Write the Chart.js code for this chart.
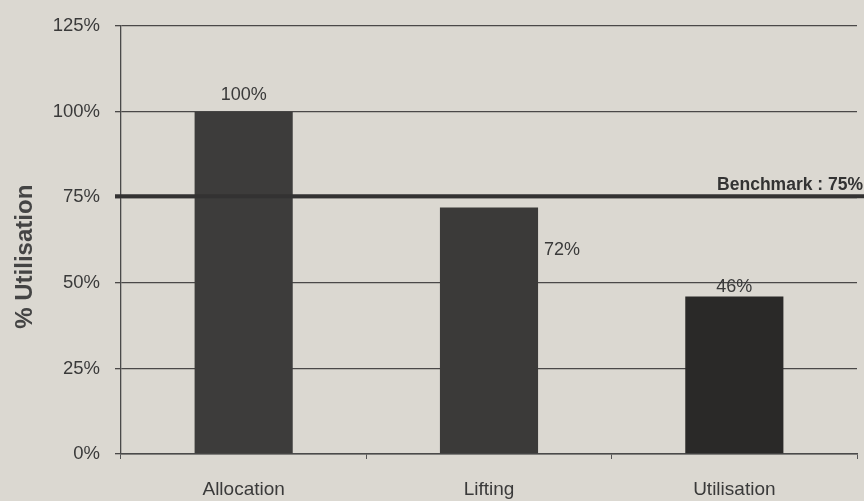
<!DOCTYPE html>
<html>
<head>
<meta charset="utf-8">
<script src="https://cdn.jsdelivr.net/npm/chart.js@4"></script>
<style>
  body { margin: 0; background: #dbd8d1; }
  canvas { display: block; }
</style>
</head>
<body>
<canvas id="myChart" width="864" height="501"></canvas>
<script>
const categories = ['Allocation', 'Lifting', 'Utilisation'];
const utilisation = [100, 72, 46];
const benchmark = 75;
const yTicks = [0, 25, 50, 75, 100, 125];

const barColors = ['#3d3c3b', '#3b3a39', '#2a2928'];
const FONT = '"Liberation Sans", Arial, sans-serif';

// draws the % labels on the bars and the benchmark line
const annotate = {
  id: 'annotate',
  afterDatasetsDraw(chart) {
    const ctx = chart.ctx;
    const y = chart.scales.y;
    const meta = chart.getDatasetMeta(0);
    ctx.save();
    ctx.fillStyle = '#3a3a3a';
    ctx.font = '18px ' + FONT;
    ctx.textBaseline = 'alphabetic';
    meta.data.forEach(function (bar, i) {
      let txt = utilisation[i] + '%';
      if (i == 1) {
        ctx.textAlign = 'left';
        ctx.fillText(txt, bar.x + bar.width / 2 + 6, bar.y + 47);
      } else {
        ctx.textAlign = 'center';
        ctx.fillText(txt, bar.x, bar.y - (i == 0 ? 12 : 5));
      }
    });

    let by = y.getPixelForValue(benchmark) - 1;
    ctx.strokeStyle = '#333232';
    ctx.lineWidth = 4;
    ctx.beginPath();
    ctx.moveTo(y.right - 6, by);
    ctx.lineTo(chart.width, by);
    ctx.stroke();

    ctx.fillStyle = '#333';
    ctx.font = 'bold 17.5px ' + FONT;
    ctx.textAlign = 'right';
    ctx.fillText('Benchmark : ' + benchmark + '%', chart.width - 1, by - 6);
    ctx.restore();
  }
};

const config = {
  type: 'bar',
  data: {
    labels: categories,
    datasets: [{
      data: utilisation,
      backgroundColor: barColors,
      borderWidth: 0,
      barPercentage: 0.4,
      categoryPercentage: 1.0
    }]
  },
  options: {
    responsive: false,
    animation: false,
    layout: { padding: { top: 24, right: 7, left: 0, bottom: 0 } },
    plugins: { legend: { display: false }, tooltip: { enabled: false } },
    scales: {
      x: {
        grid: { drawOnChartArea: false, drawTicks: true, tickLength: 5, color: '#555', offset: true },
        border: { color: '#4a4a4a', width: 1.5 },
        ticks: { color: '#3a3a3a', padding: 19, font: { family: FONT, size: 19 } },
        afterFit: function (s) { s.height = 47; }
      },
      y: {
        min: 0,
        max: 125,
        afterBuildTicks: function (s) { s.ticks = yTicks.map(v => ({ value: v })); },
        grid: { color: '#4a4848', lineWidth: 1.3, tickLength: 6 },
        border: { color: '#4a4a4a', width: 1.3 },
        ticks: {
          color: '#3a3a3a',
          padding: 15,
          font: { family: FONT, size: 18.5 },
          callback: function (v) { return v + '%'; }
        },
        title: {
          display: true,
          // trailing spaces nudge the title down a bit, like the original
          text: '% Utilisation\u00a0\u00a0\u00a0\u00a0\u00a0',
          color: '#444',
          padding: { top: 11, bottom: 0 },
          font: { family: FONT, size: 24, weight: 'bold' }
        },
        afterFit: function (s) { s.width = 121; }
      }
    }
  },
  plugins: [annotate]
};

const myChart = new Chart(document.getElementById('myChart'), config);
</script>
</body>
</html>
